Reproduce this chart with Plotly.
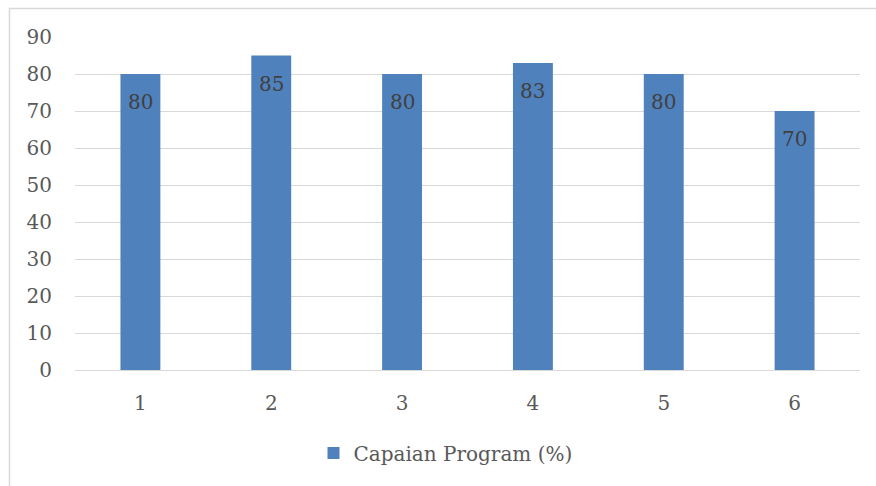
import plotly.graph_objects as go

categories = ["1", "2", "3", "4", "5", "6"]
values = [80, 85, 80, 83, 80, 70]
series_name = "Capaian Program (%)"
y_ticks = [0, 10, 20, 30, 40, 50, 60, 70, 80, 90]

FONT = "DejaVu Serif"
GRAY = "#595959"

fig = go.Figure()
fig.add_trace(go.Bar(
    x=categories, y=values, name=series_name,
    marker=dict(color="#4F81BD", line=dict(width=0)),
    showlegend=True,
))

for i, v in enumerate(values):
    fig.add_annotation(x=i, y=v, text=str(v), showarrow=False,
                       yanchor="middle", yshift=-28,
                       font=dict(family=FONT, size=20, color="#404040"))

fig.update_layout(
    width=876, height=486,
    margin=dict(l=75, r=16, t=37, b=116),
    paper_bgcolor="white", plot_bgcolor="white",
    bargap=0.695,
    font=dict(family=FONT, size=20, color=GRAY),
    legend=dict(orientation="h", x=0.5 - 22 / 785, xanchor="center", y=-0.249, yanchor="middle",
                font=dict(family=FONT, size=20, color=GRAY), itemwidth=30),
    xaxis=dict(type="category", showgrid=False, showline=False, zeroline=False, ticks="",
               tickfont=dict(family=FONT, size=20, color=GRAY), ticklabelstandoff=19),
    yaxis=dict(range=[0, 90], tickvals=y_ticks, showgrid=True, gridcolor="#d9d9d9",
               gridwidth=1, zeroline=True, zerolinecolor="#d9d9d9", zerolinewidth=1,
               showline=False, ticks="", tickfont=dict(family=FONT, size=20, color=GRAY),
               ticklabelstandoff=22),
    shapes=[
        dict(type="line", xref="paper", yref="paper",
             x0=(9 - 75) / 785, x1=(880 - 75) / 785,
             y0=(370 - 8.5) / 333, y1=(370 - 8.5) / 333,
             line=dict(color="#d9d9d9", width=1.5)),
        dict(type="line", xref="paper", yref="paper",
             x0=(9.5 - 75) / 785, x1=(9.5 - 75) / 785,
             y0=(370 - 8.5) / 333, y1=(370 - 490) / 333,
             line=dict(color="#d9d9d9", width=1.5)),
    ],
)

fig.write_html("out.html")
